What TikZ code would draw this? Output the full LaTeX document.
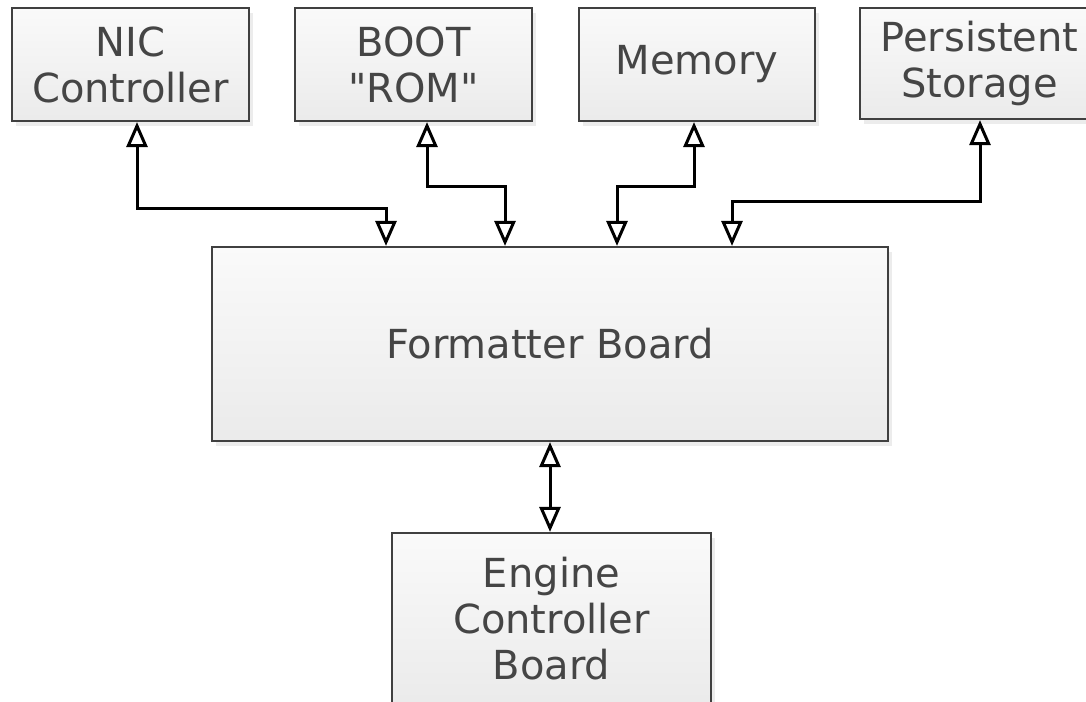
\documentclass[tikz,border=0pt]{standalone}
\usepackage{fontspec}
\setmainfont{DejaVu Sans}
\usetikzlibrary{arrows.meta,shadows}
\definecolor{boxline}{HTML}{404040}
\definecolor{boxtext}{HTML}{454545}

\tikzset{
  unit/.style={draw=boxline, line width=2.2pt, text=boxtext, align=center,
    top color=black!2, bottom color=black!8, inner sep=0pt,
    drop shadow={opacity=0.15, shadow xshift=4pt, shadow yshift=-5pt},
    font=\fontsize{40}{46}\selectfont},
  link/.style={line width=3pt, {Triangle[open,length=25pt,width=21pt]}-{Triangle[open,length=25pt,width=21pt]}}
}

\begin{document}
\begin{tikzpicture}[x=1pt,y=-1pt]
\useasboundingbox (0,0) rectangle (1086,701);

% Peripherals
\node[unit, minimum width=237pt, minimum height=113pt] (nic) at (130.5,64.5) {NIC\\Controller};
\node[unit, minimum width=237pt, minimum height=113pt] (boot) at (413.5,64.5) {BOOT\\\textquotedbl ROM\textquotedbl};
\node[unit, minimum width=236pt, minimum height=113pt] (mem) at (697,64.5) {Memory};
\node[unit, minimum width=239pt, minimum height=111pt] (pers) at (979.5,63.5) {Persistent\\Storage};

% Boards
\node[unit, minimum width=676pt, minimum height=194pt] (fmt) at (550,344) {Formatter Board};
\node[unit, minimum width=319pt, minimum height=172pt] (eng) at (551.5,619) {Engine\\Controller\\Board};

% Buses to the formatter
\foreach \src/\dx/\drop/\tx in {nic/6.5/86/-164, boot/13.5/64/-45, mem/-3/64/67, pers/0.5/81/182} {
    \draw[link] ([xshift=\dx pt]\src.south) -- ++(0,\drop) -| ([xshift=\tx pt]fmt.north);
}
\draw[link] (fmt.south) -- (fmt.south |- eng.north);
\end{tikzpicture}
\end{document}
